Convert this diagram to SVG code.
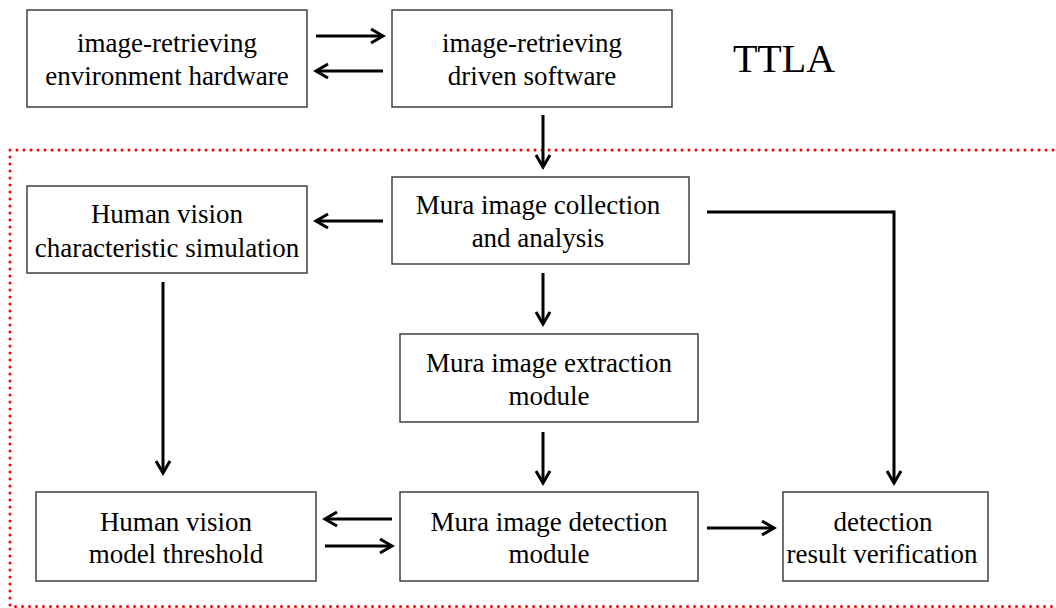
<svg xmlns="http://www.w3.org/2000/svg" width="1056" height="608" viewBox="0 0 1056 608">
<defs>
<marker id="ah" markerUnits="userSpaceOnUse" markerWidth="24" markerHeight="24" viewBox="-16 -12 24 24" refX="0" refY="0" orient="auto">
<polyline points="-12,-7 0,0 -12,7" fill="none" stroke="#000" stroke-width="3"/>
</marker>
</defs>
<style>
.box{fill:#fff;stroke:#333;stroke-width:1.4}
.t{font-family:"Liberation Serif","Times New Roman",serif;font-size:27px;fill:#000;text-anchor:middle}
.c{fill:none;stroke:#000;stroke-width:3}
.a{marker-end:url(#ah)}
.frame{fill:none;stroke:#f00;stroke-width:3;stroke-dasharray:0 7;stroke-linecap:round}
</style>
<rect width="1056" height="608" fill="#fff"/>
<path class="frame" d="M1060 150 H10 V606.5 H1060"/>
<text class="t" x="784" y="72" style="font-size:40px">TTLA</text>
<g id="n1"><rect class="box" x="27" y="10" width="280" height="97"/><text class="t" x="167" y="52">image-retrieving</text><text class="t" x="167" y="85">environment hardware</text></g>
<g id="n2"><rect class="box" x="392" y="10" width="280" height="97"/><text class="t" x="532" y="52">image-retrieving</text><text class="t" x="532" y="85">driven software</text></g>
<g id="n3"><rect class="box" x="27" y="186" width="280" height="87"/><text class="t" x="167" y="223">Human vision</text><text class="t" x="167" y="257">characteristic simulation</text></g>
<g id="n4"><rect class="box" x="392" y="177" width="297" height="87"/><text class="t" x="538" y="214">Mura image collection</text><text class="t" x="538" y="247">and analysis</text></g>
<g id="n5"><rect class="box" x="400" y="334" width="298" height="88"/><text class="t" x="549" y="372">Mura image extraction</text><text class="t" x="549" y="405">module</text></g>
<g id="n6"><rect class="box" x="36" y="492" width="280" height="89"/><text class="t" x="176" y="531">Human vision</text><text class="t" x="176" y="563">model threshold</text></g>
<g id="n7"><rect class="box" x="400" y="492" width="298" height="89"/><text class="t" x="549" y="531">Mura image detection</text><text class="t" x="549" y="563">module</text></g>
<g id="n8"><rect class="box" x="783" y="492" width="205" height="89"/><text class="t" x="883" y="531">detection</text><text class="t" x="882" y="563">result verification</text></g>
<g id="connectors">
<path class="c a" d="M316 36 H383"/>
<path class="c a" d="M383 71 H316"/>
<path class="c a" d="M543 115 V167"/>
<path class="c a" d="M383 221 H316"/>
<path class="c" d="M707 212 H894"/>
<path class="c a" d="M894 210.5 V483"/>
<path class="c a" d="M543 273 V324"/>
<path class="c a" d="M543 432 V483"/>
<path class="c a" d="M163 282 V473"/>
<path class="c a" d="M392 519 H325"/>
<path class="c a" d="M325 546 H392"/>
<path class="c a" d="M707 528 H774"/>
</g>
</svg>
